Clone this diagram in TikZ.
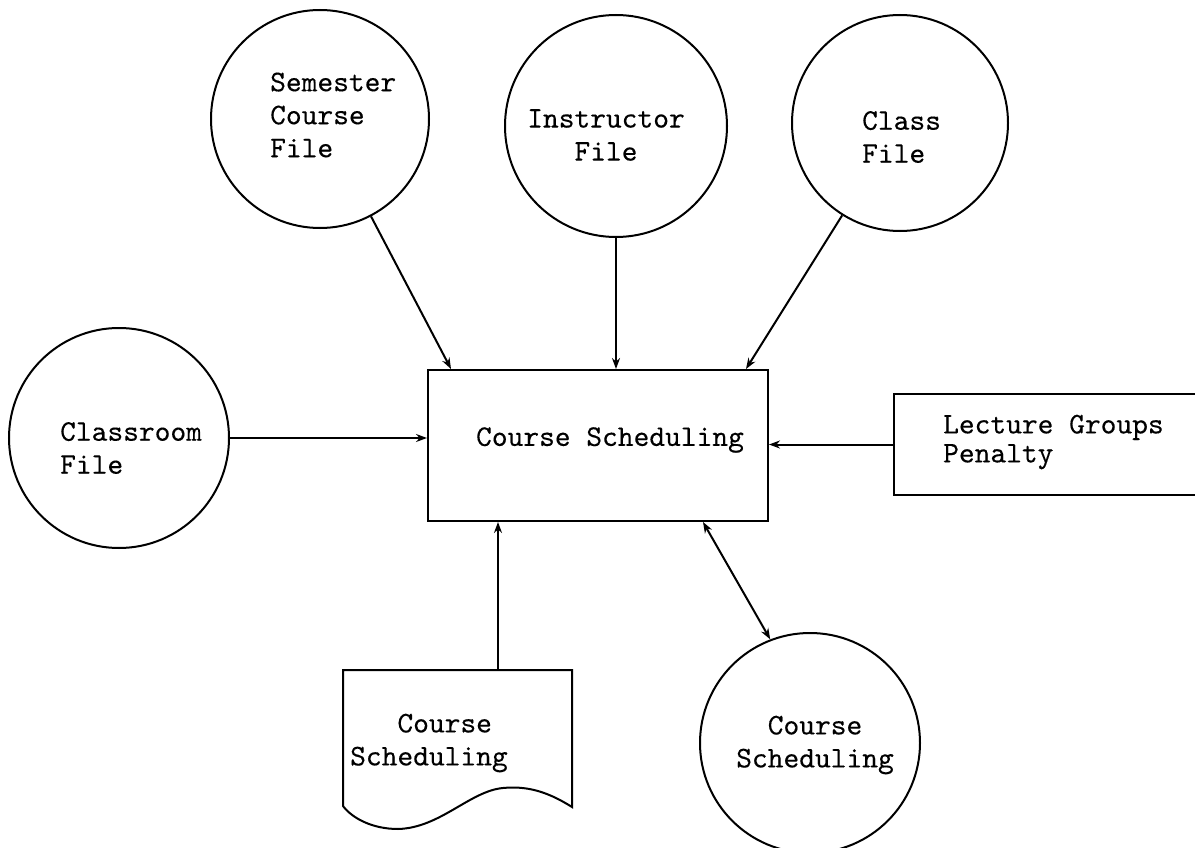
\documentclass[tikz,border=0pt]{standalone}
\usepackage{fontspec}
\usetikzlibrary{arrows.meta,calc}
\newfontfamily\tw{lmmono10-regular.otf}[FakeBold=0.25]
\tikzset{
  ln/.style={line width=2pt},
  fcirc/.style={circle, draw, ln, inner sep=0pt},
  pbox/.style={rectangle, draw, ln, inner sep=0pt},
  lbl/.style={font=\tw\fontsize{30}{33}\selectfont, inner sep=0pt},
  flow/.style={ln, -{Stealth[length=11pt,width=8pt]}},
  bflow/.style={ln, {Stealth[length=11pt,width=8pt]}-{Stealth[length=11pt,width=8pt]}},
}
\begin{document}
\begin{tikzpicture}[x=1pt,y=-1pt]
\useasboundingbox (0,0) rectangle (1195,848);
% circles
\node[fcirc, minimum size=218pt] (sem) at (320,119) {};
\node[fcirc, minimum size=222pt] (ins) at (616,126) {};
\node[fcirc, minimum size=216pt] (cls) at (900,123) {};
\node[fcirc, minimum size=220pt] (room) at (119,438) {};
\node[fcirc, minimum size=220pt] (out) at (810,743) {};
% boxes
\node[pbox, minimum width=340pt, minimum height=151pt] (main) at (598,445.5) {};
\node[pbox, minimum width=320pt, minimum height=101pt] (lect) at (1054,444.5) {};
% document
\coordinate (doctop) at (498,670);
\draw[ln] (343,670) -- (572,670) -- (572,807)
  .. controls (545,790) and (525,786) .. (503,788)
  .. controls (470,791) and (440,828) .. (398,829)
  .. controls (372,829) and (352,818) .. (343,806) -- cycle;
% texts
\node[lbl, anchor=west, align=left] (semT) at (270,115) {Semester\\Course\\File};
\node[lbl, align=center] (insT) at (606,135) {Instructor\\File};
\node[lbl, anchor=west, align=left] (clsT) at (862,137) {Class\\File};
\node[lbl, anchor=west, align=left] (roomT) at (60,448) {Classroom\\File};
\node[lbl, align=center] (outT) at (815,745) {Course\\Scheduling};
\node[lbl, anchor=west, align=left] (docT) at (350,743) {\hphantom{xxx}Course\\Scheduling};
\node[lbl] (mainT) at (610,440) {Course Scheduling};
\node[lbl, anchor=west, align=left, font=\tw\fontsize{30}{29}\selectfont] (lectT) at (943,442) {Lecture Groups\\Penalty};
% connectors
\draw[flow] (sem) -- ($(main.north west)+(24,0)$);
\draw[flow] (ins) -- (ins |- main.north);
\draw[flow] (cls) -- ($(main.north east)+(-23,0)$);
\draw[flow] (room) -- (room -| main.west);
\draw[flow] (lect) -- (lect -| main.east);
\draw[flow] (doctop) -- (doctop |- main.south);
\draw[bflow] ($(main.south west)+(276,0)$) -- (out.111);
\end{tikzpicture}
\end{document}
